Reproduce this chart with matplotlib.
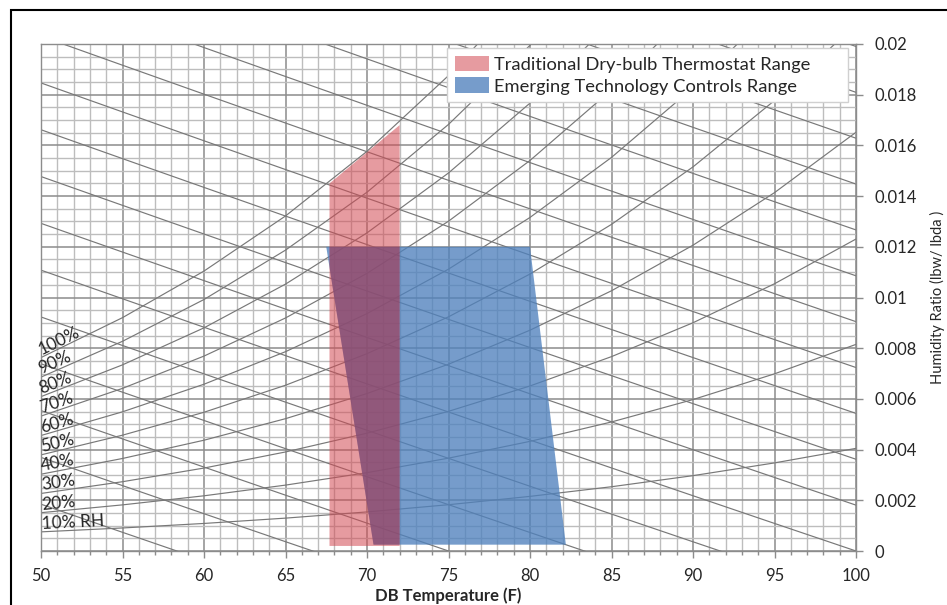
import numpy as np
import matplotlib
matplotlib.use("Agg")
import matplotlib.pyplot as plt
from matplotlib.patches import Patch, Rectangle, Polygon
from matplotlib.ticker import MultipleLocator, FuncFormatter

plt.rcParams['font.family'] = ['Lato', 'DejaVu Sans']

# saturation pressure of water vapour (psia) at the chart temperatures
temps_f = np.array([50, 55, 60, 65, 70, 75, 80, 85, 90, 95, 100])
p_sat_psia = np.array([0.17812, 0.21434, 0.25638, 0.30578, 0.36334, 0.43016,
                       0.50745, 0.59656, 0.69904, 0.81652, 0.95051])
p_atm = 14.696

rh_levels = [10, 20, 30, 40, 50, 60, 70, 80, 90, 100]
rh_labels = ['10% RH', '20%', '30%', '40%', '50%', '60%', '70%', '80%', '90%', '100%']
enthalpy_btu = [14, 16, 18, 20, 22, 24, 26, 28, 30, 32, 34, 36, 38, 40, 42, 44, 46]

# comfort ranges (dry bulb F, humidity ratio lbw/lbda)
trad_t = [67.7, 72.0, 72.0, 67.7]
trad_w = [0.0002, 0.0002, 0.0168, 0.0145]
emer_t = [67.5, 80.0, 82.2, 70.4]
emer_w = [0.012, 0.012, 0.00025, 0.00025]

x_ticks = [50, 55, 60, 65, 70, 75, 80, 85, 90, 95, 100]
y_ticks = [0, 0.002, 0.004, 0.006, 0.008, 0.01, 0.012, 0.014, 0.016, 0.018, 0.02]

red = (210/255, 73/255, 82/255)
blue = (79/255, 129/255, 189/255)
ink = '#262626'

fig = plt.figure(figsize=(9.47, 6.05), dpi=100)
ax = fig.add_axes([41/947, 1-551/605, 815/947, 507/605])
ax.set_xlim(50, 100)
ax.set_ylim(0, 0.02)

# grid
for t in np.arange(50, 101, 1):
    major = (t % 5 == 0)
    ax.axvline(t, color='#8c8c8c' if major else '#bdbdbd', lw=1.1 if major else 1.0, zorder=1)
for k in range(41):
    w = k * 0.0005
    major = (k % 4 == 0)
    ax.axhline(w, color='#8c8c8c' if major else '#bdbdbd', lw=1.1 if major else 1.0, zorder=1)

# relative humidity curves
rh_w = {}
for rh in rh_levels:
    pw = rh / 100.0 * p_sat_psia
    w = 0.621945 * pw / (p_atm - pw)
    rh_w[rh] = w
    ax.plot(temps_f, w, color='#787878', lw=0.85, zorder=2)

# enthalpy lines
for h in enthalpy_btu:
    w = (h - 0.24 * temps_f) / (1061 + 0.444 * temps_f)
    ax.plot(temps_f, w, color='#787878', lw=0.85, zorder=2)

# ranges
emer = ax.fill(emer_t, emer_w, color=blue, alpha=0.78, lw=0, zorder=3)[0]
ax.fill(trad_t, trad_w, color=red, alpha=0.55, lw=0, zorder=4)
# darker tint where both ranges overlap
ov = Polygon(np.column_stack([trad_t, trad_w]), closed=True, facecolor=(112/255, 56/255, 104/255),
             alpha=0.4, lw=0, zorder=5, transform=ax.transData)
ax.add_patch(ov)
ov.set_clip_path(emer)

# RH labels along the curves
fig.canvas.draw()
for rh, lab in zip(rh_levels, rh_labels):
    w = rh_w[rh]
    p0 = ax.transData.transform((temps_f[0], w[0]))
    p1 = ax.transData.transform((temps_f[1], w[1]))
    ang = np.degrees(np.arctan2(p1[1] - p0[1], p1[0] - p0[0]))
    ax.text(50.1, w[0], lab, rotation=ang, rotation_mode='anchor',
            ha='left', va='bottom', fontsize=12.5, color=ink, zorder=6)

# axes styling
for s in ax.spines.values():
    s.set_color('#8c8c8c')
    s.set_linewidth(1.0)
ax.set_xticks(x_ticks)
ax.xaxis.set_minor_locator(MultipleLocator(1))
ax.set_yticks(y_ticks)
ax.yaxis.tick_right()
ax.yaxis.set_label_position('right')
ax.yaxis.set_major_formatter(FuncFormatter(lambda v, p: '%g' % round(v, 4)))
ax.tick_params(axis='x', which='major', direction='out', length=5, width=1, color='#8c8c8c',
               labelsize=12, pad=7, labelcolor=ink)
ax.tick_params(axis='x', which='minor', direction='out', length=3, width=1, color='#8c8c8c')
ax.tick_params(axis='y', which='major', direction='out', length=5, width=1, color='#8c8c8c',
               labelsize=12, pad=8, labelcolor=ink)
ax.set_xlabel('DB Temperature (F)', fontsize=12, fontweight='bold', color=ink, labelpad=3)
ax.set_ylabel('Humidity Ratio (lbw/ lbda )', fontsize=10.5, color=ink, labelpad=10)

handles = [Patch(facecolor=red, alpha=0.55, lw=0),
           Patch(facecolor=blue, alpha=0.78, lw=0)]
leg = ax.legend(handles, ['Traditional Dry-bulb Thermostat Range', 'Emerging Technology Controls Range'],
                loc='upper left', bbox_to_anchor=(406/815, 0.876, 401/815, 0.116), mode='expand',
                fontsize=13.2, frameon=True, fancybox=False, framealpha=1, edgecolor='#d0d0d0',
                borderpad=0.42, handlelength=1.85, handleheight=0.93, handletextpad=0.3,
                labelspacing=0.25, borderaxespad=0)
leg.set_zorder(10)
leg.get_frame().set_linewidth(1.0)
for t in leg.get_texts():
    t.set_color(ink)

# outer frame
fig.patches.append(Rectangle((11/947, -0.1), 1.2, 1.1 - 10.5/605, fill=False, ec='black', lw=1.5,
                             transform=fig.transFigure, clip_on=False))

fig.savefig('out.png', dpi=100)
